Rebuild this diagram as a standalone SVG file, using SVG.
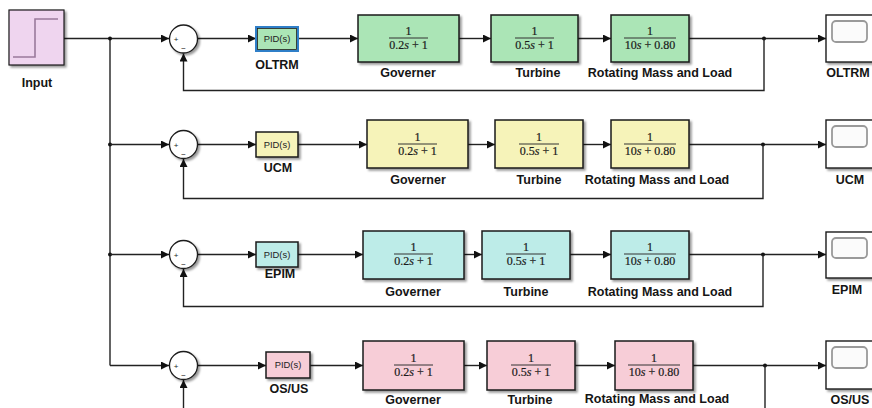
<svg xmlns="http://www.w3.org/2000/svg" width="872" height="408" viewBox="0 0 872 408">
  <defs>
    <style>
      .wire { fill: none; stroke: #222; stroke-width: 1.4; }
      .arr { fill: none; stroke: #222; stroke-width: 1.4; marker-end: url(#ah); }
      .blk { stroke: #1a1a1a; stroke-width: 1.5; filter: url(#sh); }
      .green { fill: #abe5b6; }
      .yellow { fill: #f6f3b9; }
      .cyan { fill: #bdece8; }
      .pink { fill: #f7cdd7; }
      .lbl { font-family: "Liberation Sans", Arial, sans-serif; font-weight: bold; font-size: 12.5px; fill: #151515; text-anchor: middle; }
      .pid { font-family: "Liberation Sans", Arial, sans-serif; font-size: 9.4px; fill: #222; text-anchor: middle; }
      .num { font-family: "Liberation Serif", "Times New Roman", serif; font-size: 12px; fill: #1a1a1a; text-anchor: middle; stroke: #1a1a1a; stroke-width: 0.2; }
      .bar { stroke: #333; stroke-width: 1; }
      .sgn { font-family: "Liberation Sans", Arial, sans-serif; font-size: 8px; fill: #222; text-anchor: middle; }
      .dot { fill: #111; }
      .sum { fill: #ffffff; stroke: #1a1a1a; stroke-width: 1.3; filter: url(#sh); }
      .scope { fill: #ffffff; stroke: #1a1a1a; stroke-width: 1.4; filter: url(#sh); }
      .screen { fill: #fbfbfb; stroke: #9a9a9a; stroke-width: 1.8; }
    </style>
    <filter id="sh" x="-10%" y="-10%" width="130%" height="140%">
      <feDropShadow dx="2" dy="2" stdDeviation="1" flood-color="#000" flood-opacity="0.4"/>
    </filter>
    <marker id="ah" viewBox="0 0 10 10" refX="10" refY="5" markerWidth="8" markerHeight="8" markerUnits="userSpaceOnUse" orient="auto">
      <path d="M0,0 L10,5 L0,10 z" fill="#111"/>
    </marker>
  </defs>
  <rect width="872" height="408" fill="#ffffff"/>

  <!-- signal lines -->
  <g id="connectors">
    <!-- source trunk -->
    <path class="arr" d="M64,38.5 H169"/>
    <path class="wire" d="M110,38.5 V365.5"/>
    <circle class="dot" cx="110" cy="38.5" r="2"/>
    <circle class="dot" cx="110" cy="144.5" r="2"/>
    <circle class="dot" cx="110" cy="254.5" r="2"/>

    <!-- loop 1 -->
    <path class="arr" d="M198,38.5 H256"/>
    <path class="arr" d="M298,38.5 H358"/>
    <path class="arr" d="M459,38.5 H491"/>
    <path class="arr" d="M578,38.5 H611"/>
    <path class="arr" d="M689,38.5 H826"/>
    <circle class="dot" cx="764" cy="38.5" r="2"/>
    <path class="arr" d="M764,38.5 V90.5 H183.5 V53.5"/>

    <!-- loop 2 -->
    <path class="arr" d="M110,144.5 H169"/>
    <path class="arr" d="M198,144.5 H256"/>
    <path class="arr" d="M298,144.5 H367"/>
    <path class="arr" d="M468,144.5 H495"/>
    <path class="arr" d="M583,144.5 H611"/>
    <path class="arr" d="M689,144.5 H826"/>
    <circle class="dot" cx="763" cy="144.5" r="2"/>
    <path class="arr" d="M763,144.5 V198.5 H183.5 V159"/>

    <!-- loop 3 -->
    <path class="arr" d="M110,254.5 H169"/>
    <path class="arr" d="M198,254.5 H256"/>
    <path class="arr" d="M298,254.5 H363"/>
    <path class="arr" d="M464,254.5 H482"/>
    <path class="arr" d="M570,254.5 H611"/>
    <path class="arr" d="M689,254.5 H826"/>
    <circle class="dot" cx="763" cy="254.5" r="2"/>
    <path class="arr" d="M763,254.5 V306.5 H183.5 V269"/>

    <!-- loop 4 -->
    <path class="arr" d="M110,365.5 H169"/>
    <path class="arr" d="M198,365.5 H266"/>
    <path class="arr" d="M310,365.5 H363"/>
    <path class="arr" d="M464,365.5 H487"/>
    <path class="arr" d="M575,365.5 H615"/>
    <path class="arr" d="M693,365.5 H826"/>
    <circle class="dot" cx="765" cy="365.5" r="2"/>
    <path class="wire" d="M765,365.5 V410"/>
    <path class="arr" d="M183.5,410 V380"/>
  </g>

  <!-- step source -->
  <g id="input">
    <rect x="9" y="10" width="55" height="55" fill="#efd5ef" stroke="#1a1a1a" stroke-width="1.2" filter="url(#sh)"/>
    <path d="M13,57 H35 V19 H58" fill="none" stroke="#9a7a9c" stroke-width="1.6"/>
    <text class="lbl" x="37" y="87">Input</text>
  </g>

  <!-- loop 1 : OLTRM -->
  <g id="sum1">
    <circle class="sum" cx="183.5" cy="39" r="14"/>
    <text class="sgn" x="176" y="42">+</text>
    <text class="sgn" x="183.5" y="51">−</text>
  </g>
  <g id="pid1">
    <rect class="green" x="256" y="27" width="42" height="24" stroke="#2f7fc8" stroke-width="2"/>
    <rect x="257.5" y="28.5" width="39" height="21" fill="none" stroke="#1a1a1a" stroke-width="0.8"/>
    <text class="pid" x="277" y="42">PID(s)</text>
    <text class="lbl" x="277" y="69">OLTRM</text>
  </g>
  <g id="gov1">
    <rect class="blk green" x="358" y="15" width="101" height="47"/>
    <text class="num" x="408.5" y="35">1</text>
    <line class="bar" x1="389" y1="38" x2="428" y2="38"/>
    <text class="num" x="408.5" y="48.5">0.2<tspan font-style="italic">s</tspan> + 1</text>
    <text class="lbl" x="408" y="77">Governer</text>
  </g>
  <g id="tur1">
    <rect class="blk green" x="491" y="15" width="87" height="47"/>
    <text class="num" x="534.5" y="35">1</text>
    <line class="bar" x1="515" y1="38" x2="554" y2="38"/>
    <text class="num" x="534.5" y="48.5">0.5<tspan font-style="italic">s</tspan> + 1</text>
    <text class="lbl" x="538" y="77">Turbine</text>
  </g>
  <g id="rot1">
    <rect class="blk green" x="611" y="15" width="78" height="47"/>
    <text class="num" x="650" y="35">1</text>
    <line class="bar" x1="624" y1="38" x2="676" y2="38"/>
    <text class="num" x="650" y="48.5">10<tspan font-style="italic">s</tspan> + 0.80</text>
    <text class="lbl" x="660" y="77">Rotating Mass and Load</text>
  </g>
  <g id="scope1">
    <rect class="scope" x="826" y="15" width="60" height="47"/>
    <rect class="screen" x="832" y="21" width="35" height="21" rx="4"/>
    <text class="lbl" x="848" y="77">OLTRM</text>
  </g>

  <!-- loop 2 : UCM -->
  <g id="sum2">
    <circle class="sum" cx="183.5" cy="144.5" r="14"/>
    <text class="sgn" x="176" y="147.5">+</text>
    <text class="sgn" x="183.5" y="156.5">−</text>
  </g>
  <g id="pid2">
    <rect class="blk yellow" x="256" y="132" width="42" height="25" stroke-width="1.1"/>
    <text class="pid" x="277" y="147.5">PID(s)</text>
    <text class="lbl" x="278" y="172">UCM</text>
  </g>
  <g id="gov2">
    <rect class="blk yellow" x="367" y="120" width="101" height="48"/>
    <text class="num" x="417.5" y="141">1</text>
    <line class="bar" x1="398" y1="144" x2="437" y2="144"/>
    <text class="num" x="417.5" y="154.5">0.2<tspan font-style="italic">s</tspan> + 1</text>
    <text class="lbl" x="418" y="184">Governer</text>
  </g>
  <g id="tur2">
    <rect class="blk yellow" x="495" y="120" width="88" height="48"/>
    <text class="num" x="539" y="141">1</text>
    <line class="bar" x1="519" y1="144" x2="559" y2="144"/>
    <text class="num" x="539" y="154.5">0.5<tspan font-style="italic">s</tspan> + 1</text>
    <text class="lbl" x="539" y="184">Turbine</text>
  </g>
  <g id="rot2">
    <rect class="blk yellow" x="611" y="120" width="78" height="48"/>
    <text class="num" x="650" y="141">1</text>
    <line class="bar" x1="624" y1="144" x2="676" y2="144"/>
    <text class="num" x="650" y="154.5">10<tspan font-style="italic">s</tspan> + 0.80</text>
    <text class="lbl" x="657" y="184">Rotating Mass and Load</text>
  </g>
  <g id="scope2">
    <rect class="scope" x="826" y="120" width="60" height="48"/>
    <rect class="screen" x="832" y="126" width="35" height="21" rx="4"/>
    <text class="lbl" x="850" y="184">UCM</text>
  </g>

  <!-- loop 3 : EPIM -->
  <g id="sum3">
    <circle class="sum" cx="183.5" cy="254.5" r="14"/>
    <text class="sgn" x="176" y="257.5">+</text>
    <text class="sgn" x="183.5" y="266.5">−</text>
  </g>
  <g id="pid3">
    <rect class="blk cyan" x="256" y="242" width="42" height="25" stroke-width="1.1"/>
    <text class="pid" x="277" y="257.5">PID(s)</text>
    <text class="lbl" x="280" y="278">EPIM</text>
  </g>
  <g id="gov3">
    <rect class="blk cyan" x="363" y="231" width="101" height="48"/>
    <text class="num" x="413.5" y="251">1</text>
    <line class="bar" x1="394" y1="254" x2="433" y2="254"/>
    <text class="num" x="413.5" y="264.5">0.2<tspan font-style="italic">s</tspan> + 1</text>
    <text class="lbl" x="413" y="296">Governer</text>
  </g>
  <g id="tur3">
    <rect class="blk cyan" x="482" y="231" width="88" height="48"/>
    <text class="num" x="526" y="251">1</text>
    <line class="bar" x1="506" y1="254" x2="546" y2="254"/>
    <text class="num" x="526" y="264.5">0.5<tspan font-style="italic">s</tspan> + 1</text>
    <text class="lbl" x="526" y="296">Turbine</text>
  </g>
  <g id="rot3">
    <rect class="blk cyan" x="611" y="231" width="78" height="48"/>
    <text class="num" x="650" y="251">1</text>
    <line class="bar" x1="624" y1="254" x2="676" y2="254"/>
    <text class="num" x="650" y="264.5">10<tspan font-style="italic">s</tspan> + 0.80</text>
    <text class="lbl" x="660" y="296">Rotating Mass and Load</text>
  </g>
  <g id="scope3">
    <rect class="scope" x="826" y="232" width="60" height="46"/>
    <rect class="screen" x="832" y="238" width="35" height="20" rx="4"/>
    <text class="lbl" x="847" y="294">EPIM</text>
  </g>

  <!-- loop 4 : OS/US -->
  <g id="sum4">
    <circle class="sum" cx="183.5" cy="365.5" r="14"/>
    <text class="sgn" x="176" y="368.5">+</text>
    <text class="sgn" x="183.5" y="377.5">−</text>
  </g>
  <g id="pid4">
    <rect class="blk pink" x="266" y="352" width="44" height="26" stroke-width="1.1"/>
    <text class="pid" x="288" y="368">PID(s)</text>
    <text class="lbl" x="289" y="393">OS/US</text>
  </g>
  <g id="gov4">
    <rect class="blk pink" x="363" y="341" width="101" height="49"/>
    <text class="num" x="413.5" y="362">1</text>
    <line class="bar" x1="394" y1="365" x2="433" y2="365"/>
    <text class="num" x="413.5" y="375.5">0.2<tspan font-style="italic">s</tspan> + 1</text>
    <text class="lbl" x="413" y="404">Governer</text>
  </g>
  <g id="tur4">
    <rect class="blk pink" x="487" y="341" width="88" height="49"/>
    <text class="num" x="531" y="362">1</text>
    <line class="bar" x1="511" y1="365" x2="551" y2="365"/>
    <text class="num" x="531" y="375.5">0.5<tspan font-style="italic">s</tspan> + 1</text>
    <text class="lbl" x="530" y="404">Turbine</text>
  </g>
  <g id="rot4">
    <rect class="blk pink" x="615" y="341" width="78" height="49"/>
    <text class="num" x="654" y="362">1</text>
    <line class="bar" x1="628" y1="365" x2="680" y2="365"/>
    <text class="num" x="654" y="375.5">10<tspan font-style="italic">s</tspan> + 0.80</text>
    <text class="lbl" x="657" y="403">Rotating Mass and Load</text>
  </g>
  <g id="scope4">
    <rect class="scope" x="826" y="341" width="60" height="48"/>
    <rect class="screen" x="832" y="347" width="35" height="21" rx="4"/>
    <text class="lbl" x="850" y="404">OS/US</text>
  </g>
</svg>
